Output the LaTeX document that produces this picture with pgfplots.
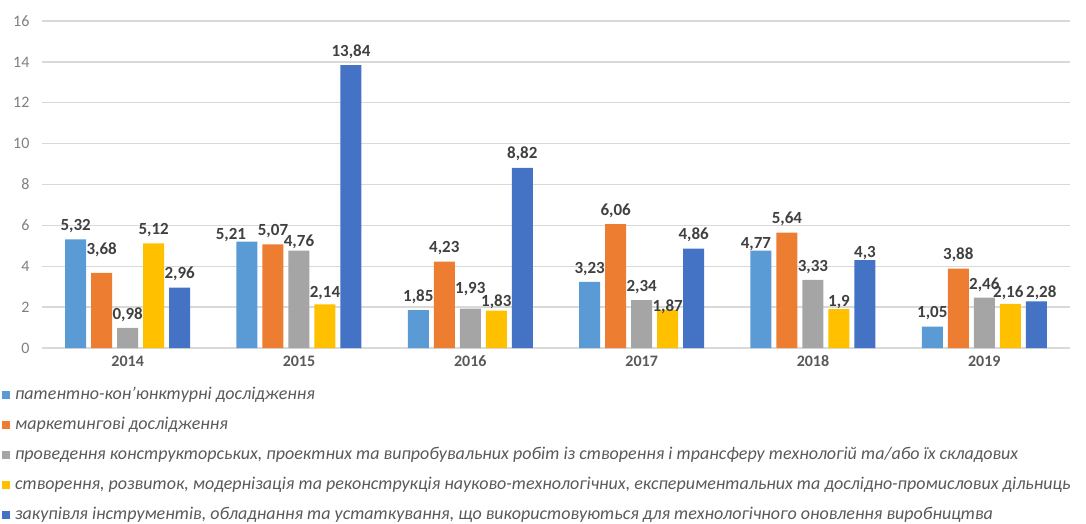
\documentclass[border=0pt]{standalone}
\usepackage{fontspec}
\setmainfont{Carlito}
\usepackage{pgfplots}
\usepackage{pgfplotstable}
\pgfplotsset{compat=1.18}

\definecolor{cA}{HTML}{5B9BD5}
\definecolor{cB}{HTML}{ED7D31}
\definecolor{cC}{HTML}{A5A5A5}
\definecolor{cD}{HTML}{FFC000}
\definecolor{cE}{HTML}{4472C4}
\definecolor{txt}{HTML}{595959}
\definecolor{lbl}{HTML}{404040}

% values a..e, then label nudges (dx, dy in pt) per series
\pgfplotstableread{
x a b c d e xa ya xb yb xc yc xd yd xe ye
0 5.32 3.68 0.98 5.12 2.96 0 0 0 9 0 0 0 0 0 0
1 5.21 5.07 4.76 2.14 13.84 -16 -6.5 0 0 0 -5 0 -2 0 0
2 1.85 4.23 1.93 1.83 8.82 0 0 0 0 0 6.5 0 -4.5 0 0
3 3.23 6.06 2.34 1.87 4.86 0 0 0 0 0 0 0 -11 0 0
4 4.77 5.64 3.33 1.9 4.3 -5 -7 0 0 0 0 0 -6 0 -6
5 1.05 3.88 2.46 2.16 2.28 0 0 0 0 0 -1 -2 -2 5 -4.5
}\datatable

\pgfplotsset{
  nudge/.style 2 args={
    visualization depends on={\thisrow{#1} \as \lbldx},
    visualization depends on={\thisrow{#2} \as \lbldy},
    every node near coord/.append style={xshift=\lbldx pt, yshift=\lbldy pt}},
}

\begin{document}
\begin{tikzpicture}
\path[use as bounding box] (0,0) rectangle (1086pt,-523pt);
\begin{axis}[
    at={(42pt,-348pt)}, anchor=south west,
    scale only axis,
    width=1028pt, height=327pt,
    ybar=5pt, bar width=21pt,
    xmin=-0.5, xmax=5.5,
    ymin=0, ymax=16,
    xtick={0,...,5},
    xticklabels={2014,2015,2016,2017,2018,2019},
    ytick={0,2,...,16},
    major tick length=0pt,
    axis line style={draw=none},
    ymajorgrids=true,
    grid style={line width=1.3pt, draw=black!15},
    /pgf/number format/assume math mode=true,
    /pgf/number format/use comma,
    /pgf/number format/fixed,
    /pgf/number format/precision=2,
    yticklabel style={font=\fontsize{16}{18}\selectfont, text=black!50, xshift=-9pt},
    xticklabel style={font=\fontsize{16}{18}\selectfont\bfseries, text=txt, yshift=-4pt},
    nodes near coords,
    nodes near coords style={font=\fontsize{17}{19}\selectfont\bfseries, text=lbl, yshift=3pt},
    legend cell align=left,
    legend image code/.code={\path[#1,draw=none] (0pt,-4pt) rectangle (8pt,4pt); \path (12pt,0pt);},
    legend style={at={(axis description cs:-0.039,-0.116)}, anchor=north west,
        draw=none, fill=none, inner sep=0pt, row sep=12pt,
        font=\fontsize{18}{20}\selectfont\itshape, text=txt,
        nodes={inner sep=1pt, text height=12pt, text depth=4pt}},
]
\addplot[fill=cA, draw=none, nudge={xa}{ya}] table[x=x, y=a] {\datatable};
\addlegendentry{патентно-кон'юнктурні дослідження}
\addplot[fill=cB, draw=none, nudge={xb}{yb}] table[x=x, y=b] {\datatable};
\addlegendentry{маркетингові дослідження}
\addplot[fill=cC, draw=none, nudge={xc}{yc}] table[x=x, y=c] {\datatable};
\addlegendentry{проведення конструкторських, проектних та випробувальних робіт із створення і трансферу технологій та/або їх складових}
\addplot[fill=cD, draw=none, nudge={xd}{yd}] table[x=x, y=d] {\datatable};
\addlegendentry{створення, розвиток, модернізація та реконструкція науково-технологічних, експериментальних та дослідно-промислових дільниць}
\addplot[fill=cE, draw=none, nudge={xe}{ye}] table[x=x, y=e] {\datatable};
\addlegendentry{закупівля інструментів, обладнання та устаткування, що використовуються для технологічного оновлення виробництва}
\end{axis}
\end{tikzpicture}
\end{document}
